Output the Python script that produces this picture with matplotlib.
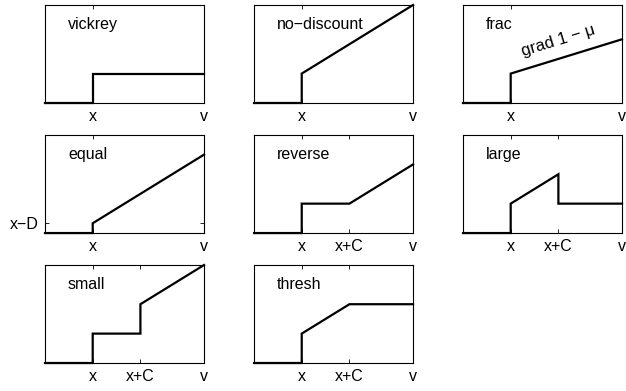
import matplotlib
matplotlib.use("Agg")
import matplotlib.pyplot as plt

plt.rcParams["font.family"] = ["Liberation Sans", "DejaVu Sans"]

# ── key positions on the value axis
X = 0.3
XC = 0.6
V = 1.0
XD = 0.1

# ── payment curves (breakpoints)
names = ["vickrey", "no\u2212discount", "frac", "equal", "reverse", "large", "small", "thresh"]
curve_x = [
    [0, 0.3, 0.3, 1.0],
    [0, 0.3, 0.3, 1.0],
    [0, 0.3, 0.3, 1.0],
    [0, 0.3, 0.3, 1.0],
    [0, 0.3, 0.3, 0.6, 1.0],
    [0, 0.3, 0.3, 0.6, 0.6, 1.0],
    [0, 0.3, 0.3, 0.6, 0.6, 1.0],
    [0, 0.3, 0.3, 0.6, 1.0],
]
curve_y = [
    [0, 0, 0.3, 0.3],
    [0, 0, 0.3, 1.0],
    [0, 0, 0.3, 0.65],
    [0, 0, 0.1, 0.8],
    [0, 0, 0.3, 0.3, 0.7],
    [0, 0, 0.3, 0.6, 0.3, 0.3],
    [0, 0, 0.3, 0.3, 0.6, 1.0],
    [0, 0, 0.3, 0.6, 0.6],
]
xticks = [
    [X, V], [X, V], [X, V],
    [X, V], [X, XC, V], [X, XC, V],
    [X, XC, V], [X, XC, V],
]
xticklabels = [
    ["x", "v"], ["x", "v"], ["x", "v"],
    ["x", "v"], ["x", "x+C", "v"], ["x", "x+C", "v"],
    ["x", "x+C", "v"], ["x", "x+C", "v"],
]

fig = plt.figure(figsize=(6.26, 3.91), dpi=100)

lefts = [0.0719, 0.4058, 0.7396]
bottoms = [0.7366, 0.404, 0.0716]
w, h = 0.254, 0.2506

for i, name in enumerate(names):
    r, c = divmod(i, 3)
    ax = fig.add_axes([lefts[c], bottoms[r], w, h])
    ax.plot(curve_x[i], curve_y[i], color="black", linewidth=1.6, clip_on=False,
            solid_joinstyle="miter")
    ax.set_xlim(0, 1)
    ax.set_ylim(0, 1)
    ax.set_xticks(xticks[i])
    ax.set_xticklabels(xticklabels[i], fontsize=11.5)
    if name == "equal":
        ax.set_yticks([XD])
        ax.set_yticklabels(["x\u2212D"], fontsize=11.5)
    else:
        ax.set_yticks([])
    ax.tick_params(direction="in", length=3, width=0.6, top=True, right=True,
                   pad=4.5, colors="black")
    for s in ax.spines.values():
        s.set_linewidth(0.8)
    ax.text(0.145, 0.8, name, transform=ax.transAxes, fontsize=11.5,
            va="center", ha="left")
    if name == "frac":
        ax.text(0.6, 0.64, "grad 1 \u2212 \u03bc", fontsize=12, rotation=17,
                ha="center", va="center", rotation_mode="anchor")

fig.savefig("out.png", dpi=100)
